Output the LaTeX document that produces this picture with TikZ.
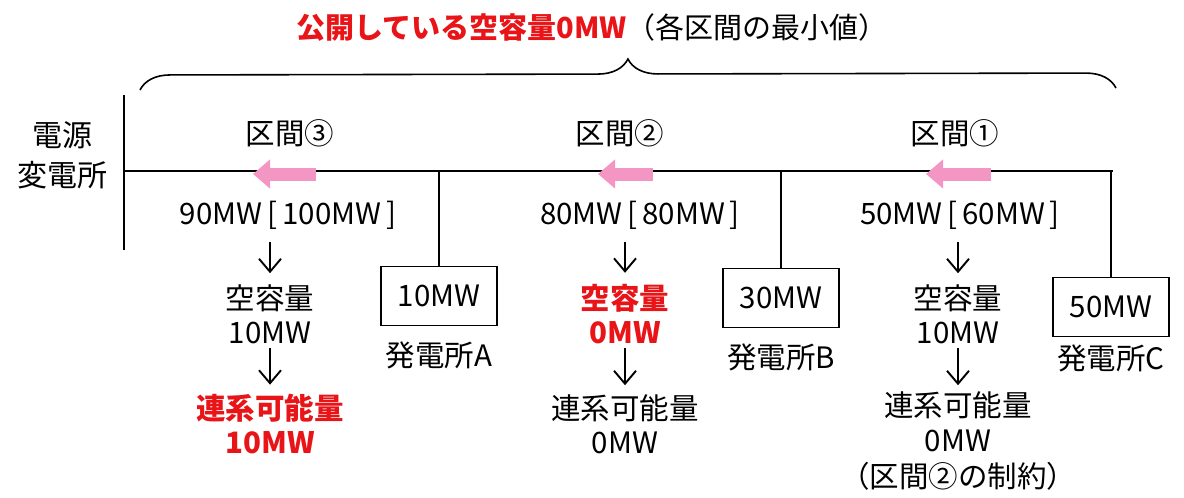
\documentclass[tikz,border=0pt]{standalone}
\usepackage{fontspec}
\setmainfont{Noto Sans CJK JP}
\usetikzlibrary{arrows.meta, positioning, decorations.pathreplacing}
\definecolor{alarmred}{RGB}{232,20,24}
\definecolor{flowpink}{RGB}{244,150,196}
\tikzset{
    txt/.style={inner sep=0pt, font=\fontsize{29.5}{32}\selectfont},
    redtxt/.style={txt, text=alarmred, font=\fontsize{29.5}{32}\selectfont\bfseries},
    plant/.style={draw, line width=1.8pt, minimum width=116pt, minimum height=59pt, txt},
    bus/.style={line width=1.8pt},
    down/.style={-{Straight Barb[length=13pt, width=22pt]}, line width=1.9pt},
    flow/.style={-{Triangle[length=17pt, width=28pt]}, line width=13pt, flowpink},
}
\begin{document}
\begin{tikzpicture}[x=1pt, y=-1pt]
    \useasboundingbox (0,0) rectangle (1184,498);

    \node[txt, font=\fontsize{29}{32}\selectfont] (title) at (592,28) {\textcolor{alarmred}{\bfseries 公開している空容量0MW}（各区間の最小値）};
    \coordinate (braceL) at (140,90);
    \coordinate (braceR) at (1116,88);
    \draw[line width=1.6pt, decorate, decoration={brace, amplitude=30pt}] (braceL) -- (braceR);

    \node[txt, align=center, font=\fontsize{30}{40}\selectfont] (source) at (62,155) {電源\\変電所};
    \coordinate (barTop) at (124,95);
    \coordinate (barBot) at (124,250);
    \coordinate (busL) at (124,171);
    \coordinate (busR) at (1113,171);
    \draw[bus] (barTop) -- (barBot);
    \draw[bus] (busL) -- (busR);

    \node[txt] (sec3) at (290,133) {区間③};
    \node[txt] (sec2) at (620,133) {区間②};
    \node[txt] (sec1) at (955,133) {区間①};
    \coordinate (f3s) at (316,174); \coordinate (f3e) at (253,174);
    \coordinate (f2s) at (653,174); \coordinate (f2e) at (598,174);
    \coordinate (f1s) at (991,174); \coordinate (f1e) at (926,174);
    \draw[flow] (f3s) -- (f3e);
    \draw[flow] (f2s) -- (f2e);
    \draw[flow] (f1s) -- (f1e);

    % generators
    \node[plant] (genA) at (439,296) {10MW};
    \node[plant] (genB) at (781,298) {30MW};
    \node[plant] (genC) at (1111,307) {50MW};
    \node[txt, below=15pt of genA] (nameA) {発電所A};
    \node[txt, below=15pt of genB] (nameB) {発電所B};
    \node[txt, below=7pt of genC] (nameC) {発電所C};
    \draw[bus] (genA.north |- busL) -- (genA.north);
    \draw[bus] (genB.north |- busL) -- (genB.north);
    \draw[bus] (genC.north |- busR) -- (genC.north);

    % section 3
    \node[txt] (flow3) at (288,215) {90MW\,[\,100MW\,]};
    \node[txt] (cap3) at (270,298) {空容量};
    \node[txt] (capv3) at (270,333) {10MW};
    \node[redtxt] (lim3) at (270,408) {連系可能量};
    \node[redtxt] (limv3) at (270,443) {10MW};
    \draw[down] ([yshift=-13pt]flow3.south -| cap3.north) -- ([yshift=11pt]cap3.north);
    \draw[down] ([yshift=-4pt]capv3.south) -- ([yshift=9pt]lim3.north);

    % section 2
    \node[txt] (flow2) at (640,215) {80MW\,[\,80MW\,]};
    \node[redtxt] (cap2) at (625,298) {空容量};
    \node[redtxt] (capv2) at (625,333) {0MW};
    \node[txt] (lim2) at (625,408) {連系可能量};
    \node[txt] (limv2) at (625,443) {0MW};
    \draw[down] ([yshift=-13pt]flow2.south -| cap2.north) -- ([yshift=11pt]cap2.north);
    \draw[down] ([yshift=-4pt]capv2.south) -- ([yshift=9pt]lim2.north);

    % section 1
    \node[txt] (flow1) at (960,215) {50MW\,[\,60MW\,]};
    \node[txt] (cap1) at (958,298) {空容量};
    \node[txt] (capv1) at (958,333) {10MW};
    \node[txt] (lim1) at (958,405) {連系可能量};
    \node[txt] (limv1) at (958,441) {0MW};
    \node[txt] (note1) at (958,476) {（区間②の制約）};
    \draw[down] ([yshift=-13pt]flow1.south -| cap1.north) -- ([yshift=11pt]cap1.north);
    \draw[down] ([yshift=-4pt]capv1.south) -- ([yshift=6pt]lim1.north);
\end{tikzpicture}
\end{document}
